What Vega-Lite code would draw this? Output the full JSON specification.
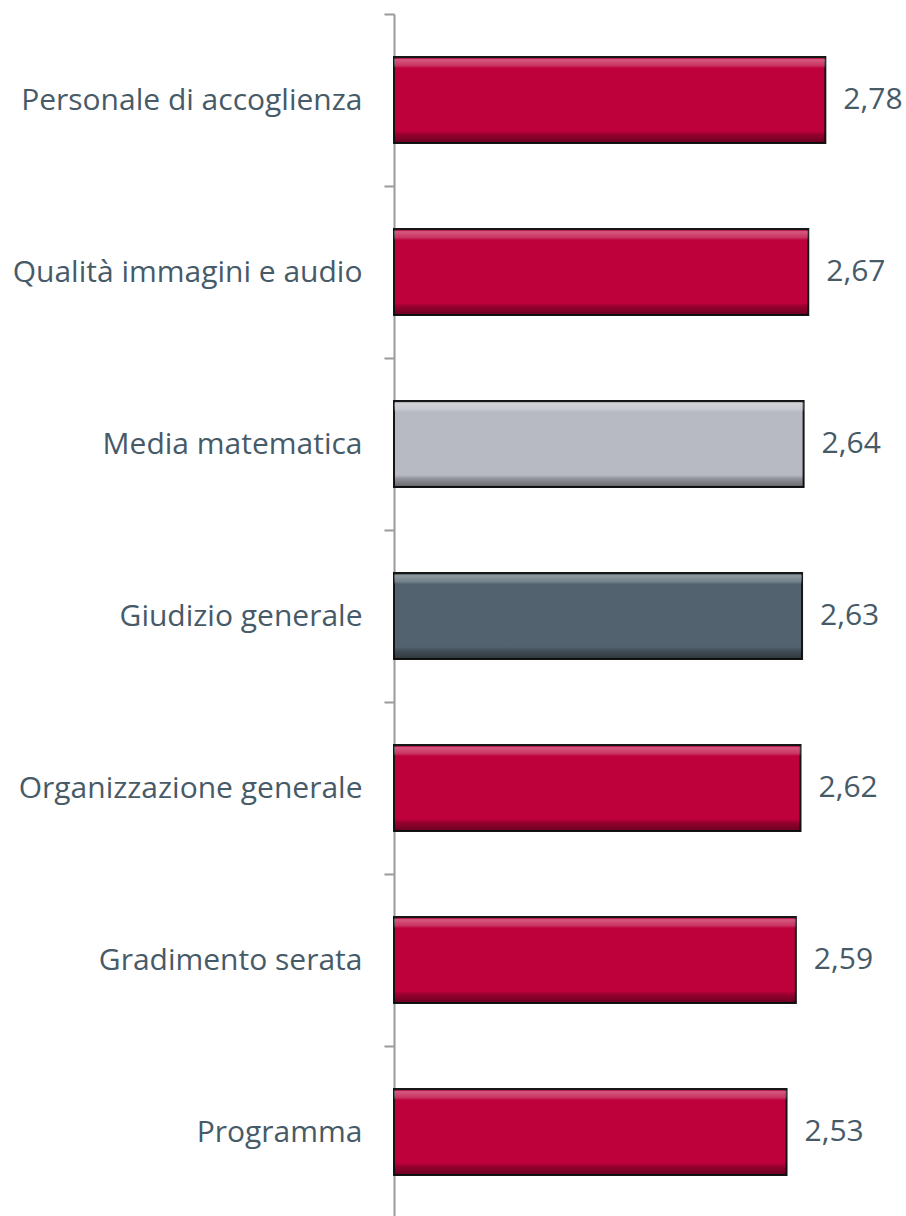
{
  "$schema": "https://vega.github.io/schema/vega-lite/v6.json",
  "autosize": "none",
  "width": 512,
  "height": 1204,
  "padding": {"left": 394, "top": 14, "right": 0, "bottom": 0},
  "background": "white",
  "config": {
    "view": {"stroke": null},
    "locale": {"number": {"decimal": ",", "thousands": ".", "grouping": [3], "currency": ["€", ""]}}
  },
  "data": {
    "values": [
      {"voce": "Personale di accoglienza", "valore": 2.78, "tipo": "voce"},
      {"voce": "Qualità immagini e audio", "valore": 2.67, "tipo": "voce"},
      {"voce": "Media matematica", "valore": 2.64, "tipo": "media"},
      {"voce": "Giudizio generale", "valore": 2.63, "tipo": "giudizio"},
      {"voce": "Organizzazione generale", "valore": 2.62, "tipo": "voce"},
      {"voce": "Gradimento serata", "valore": 2.59, "tipo": "voce"},
      {"voce": "Programma", "valore": 2.53, "tipo": "voce"}
    ]
  },
  "encoding": {
    "y": {
      "field": "voce",
      "type": "nominal",
      "sort": ["Personale di accoglienza", "Qualità immagini e audio", "Media matematica", "Giudizio generale", "Organizzazione generale", "Gradimento serata", "Programma"],
      "scale": {"paddingInner": 0, "paddingOuter": 0},
      "axis": {
        "title": null,
        "tickBand": "extent",
        "tickSize": 10,
        "tickWidth": 2,
        "tickColor": "#9a9a9a",
        "domainColor": "#9a9a9a",
        "domainWidth": 2,
        "labelPadding": 22,
        "labelFont": "Open Sans",
        "labelFontSize": 30,
        "labelColor": "#475A68",
        "labelLimit": 400
      }
    },
    "x": {
      "field": "valore",
      "type": "quantitative",
      "scale": {"domain": [0, 3.3], "nice": false},
      "axis": null
    }
  },
  "layer": [
    {
      "mark": {"type": "bar", "stroke": "#151515", "strokeWidth": 2, "height": {"band": 0.5}},
      "encoding": {
        "color": {
          "field": "tipo",
          "type": "nominal",
          "scale": {"domain": ["voce", "media", "giudizio"], "range": ["#BE003B", "#B8BAC3", "#52636F"]},
          "legend": null
        }
      }
    },
    {
      "mark": {
        "type": "bar",
        "strokeWidth": 0,
        "height": {"band": 0.5},
        "color": {
          "gradient": "linear",
          "x1": 0, "y1": 0, "x2": 0, "y2": 1,
          "stops": [
            {"offset": 0, "color": "rgba(0,0,0,0)"},
            {"offset": 0.03, "color": "rgba(255,255,255,0.35)"},
            {"offset": 0.1, "color": "rgba(255,255,255,0.2)"},
            {"offset": 0.13, "color": "rgba(255,255,255,0)"},
            {"offset": 0.86, "color": "rgba(0,0,0,0)"},
            {"offset": 0.9, "color": "rgba(0,0,0,0.2)"},
            {"offset": 1, "color": "rgba(0,0,0,0.45)"}
          ]
        }
      }
    },
    {
      "mark": {"type": "text", "align": "left", "baseline": "middle", "dx": 18, "font": "Open Sans", "fontSize": 30, "color": "#475A68"},
      "encoding": {
        "text": {"field": "valore", "type": "quantitative", "format": ".2f"}
      }
    }
  ]
}
